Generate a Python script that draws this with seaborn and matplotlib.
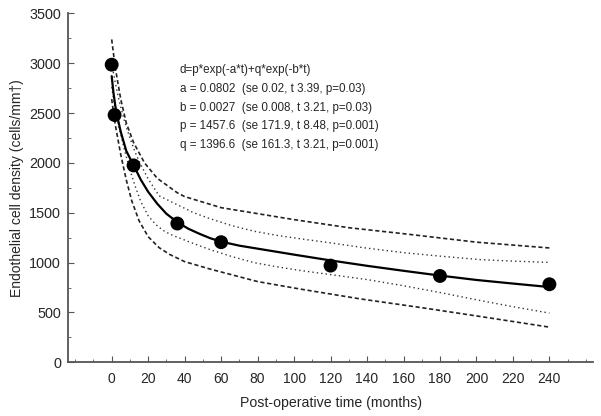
import pandas as pd
import matplotlib.pyplot as plt
import seaborn as sns
from matplotlib.ticker import MultipleLocator

# observed endothelial cell density
obs_t = [0, 1.6, 12, 36, 60, 120, 180, 240]
obs_d = [2985, 2480, 1975, 1392, 1205, 970, 866, 783]

# fitted curve
fit_t = [0, 1, 2, 3, 5, 8, 12, 16, 20, 25, 30, 36, 42, 48, 54, 60, 70, 80, 100, 120, 140, 160,
         180, 200, 220, 240]
fit_d = [2870, 2700, 2570, 2470, 2310, 2120, 1976, 1830, 1710, 1590, 1490, 1405, 1340, 1290,
         1245, 1210, 1170, 1140, 1080, 1022, 968, 918, 870, 826, 790, 755]

# inner band (dotted)
up_in_t = [0, 2, 4, 7, 10, 13, 16, 20, 26, 36, 45, 54, 66, 78, 90, 103, 120, 140, 160, 180, 202, 220, 240]
up_in_d = [3000, 2800, 2630, 2420, 2250, 2100, 1980, 1840, 1670, 1580, 1500, 1440, 1370, 1315,
           1275, 1240, 1198, 1145, 1100, 1065, 1030, 1015, 1002]
lo_in_t = [0, 2, 4, 7, 10, 13, 16, 20, 24, 28, 32, 36, 45, 54, 66, 78, 90, 103, 120, 140, 160, 180, 202, 220, 240]
lo_in_d = [2760, 2540, 2360, 2130, 1930, 1760, 1610, 1470, 1385, 1325, 1285, 1255, 1190, 1130,
           1060, 1000, 960, 922, 880, 830, 768, 700, 620, 558, 494]

# outer band (dashed)
up_out_t = [0, 2, 5, 8, 12, 18, 25, 36, 40, 60, 80, 100, 130, 160, 200, 240]
up_out_d = [3238, 2950, 2636, 2400, 2204, 2000, 1845, 1700, 1662, 1551, 1491, 1431, 1350, 1290, 1205, 1147]
lo_out_t = [0, 2, 5, 8, 11, 15, 20, 26, 32, 40, 54, 80, 103, 136, 170, 202, 240]
lo_out_d = [2640, 2380, 2080, 1830, 1620, 1420, 1260, 1150, 1080, 1010, 935, 810, 736, 637, 548, 460, 353]

eq_lines = [
    "d=p*exp(-a*t)+q*exp(-b*t)",
    "a = 0.0802  (se 0.02, t 3.39, p=0.03)",
    "b = 0.0027  (se 0.008, t 3.21, p=0.03)",
    "p = 1457.6  (se 171.9, t 8.48, p=0.001)",
    "q = 1396.6  (se 161.3, t 3.21, p=0.001)",
]

sns.set_style("ticks")
plt.rcParams['font.family'] = ['Liberation Sans', 'DejaVu Sans']

fig = plt.figure(figsize=(6.01, 4.16), dpi=100)
ax = fig.add_axes([0.113, 0.129, 0.874, 0.839])

dash = (0, (2.5, 1.6))
dot = (0, (1, 2.2))
sns.lineplot(x=up_out_t, y=up_out_d, ax=ax, color='#222222', lw=1.2, linestyle=dash)
sns.lineplot(x=lo_out_t, y=lo_out_d, ax=ax, color='#222222', lw=1.2, linestyle=dash)
sns.lineplot(x=up_in_t, y=up_in_d, ax=ax, color='#333333', lw=1.0, linestyle=dot)
sns.lineplot(x=lo_in_t, y=lo_in_d, ax=ax, color='#333333', lw=1.0, linestyle=dot)
sns.lineplot(x=fit_t, y=fit_d, ax=ax, color='black', lw=1.6)
sns.scatterplot(x=obs_t, y=obs_d, ax=ax, color='black', s=100, edgecolor='none', zorder=5)

ax.set_xlim(-24, 264)
ax.set_ylim(0, 3500)
ax.set_xticks(range(0, 241, 20))
ax.set_yticks(range(0, 3501, 500))
ax.xaxis.set_minor_locator(MultipleLocator(10))
ax.yaxis.set_minor_locator(MultipleLocator(250))
ax.tick_params(which='both', direction='in', color='#555555', labelsize=10)
ax.tick_params(axis='y', labelsize=10.4)
ax.tick_params(which='major', length=4)
ax.tick_params(which='minor', length=2)
ax.tick_params(axis='x', pad=7)
ax.tick_params(axis='y', pad=5)
for side in ['left', 'bottom']:
    ax.spines[side].set_color('#555555')
    ax.spines[side].set_linewidth(1.3)
sns.despine(ax=ax)

ax.set_xlabel('Post-operative time (months)', fontsize=10.2, labelpad=7)
ax.set_ylabel('Endothelial cell density (cells/mm\u2020)', fontsize=10, labelpad=4)

for i, line in enumerate(eq_lines):
    ax.text(0.213, 0.838 - i * 0.054, line, transform=ax.transAxes, fontsize=8.4,
            va='center', ha='left')

fig.savefig('out.png', dpi=100)
